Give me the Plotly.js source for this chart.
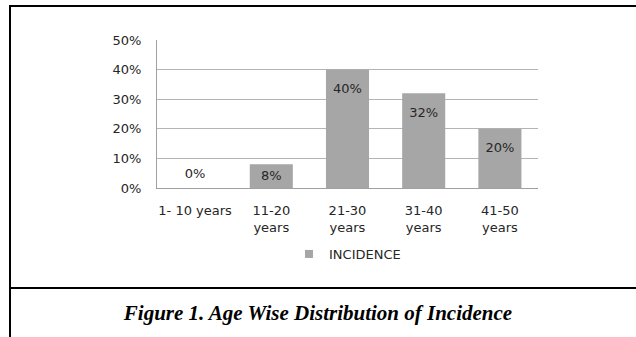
<!DOCTYPE html>
<html>
<head>
<meta charset="utf-8">
<script src="https://cdn.plot.ly/plotly-3.0.1.min.js"></script>
<style>
html,body{margin:0;padding:0;background:#fff;}
#chart{width:636px;height:337px;}
</style>
</head>
<body>
<div id="chart"></div>
<script>
const categories = ["1- 10 years", "11-20<br>years", "21-30<br>years", "31-40<br>years", "41-50<br>years"];
const incidence = [0.00, 0.08, 0.40, 0.32, 0.20];
const seriesName = "INCIDENCE";
const figureCaption = "<b><i>Figure 1. Age Wise Distribution of Incidence</i></b>";

const W = 636, H = 337;
const L = 157, R = 538, T = 40, B = 188;
const px2x = p => (p - L) / (R - L);
const px2y = p => (B - p) / (B - T);
const FONT = "DejaVu Sans, sans-serif";
const TXT = "#262626";

const bars = {
  type: "bar",
  x: categories,
  y: incidence,
  name: seriesName,
  marker: {color: "#a6a6a6"},
  showlegend: false,
  hoverinfo: "skip"
};

// label offsets (invisible marker radius pushes text away from the bar top)
const labelGap = incidence.map(v => v === 0 ? 10 : (v < 0.1 ? 8 : 20));

const labels = {
  type: "scatter",
  mode: "markers+text",
  x: categories,
  y: incidence,
  text: incidence.map(v => Math.round(v * 100) + "%"),
  textposition: incidence.map(v => v === 0 ? "top center" : "bottom center"),
  marker: {size: labelGap, opacity: 0},
  textfont: {family: FONT, size: 13, color: TXT},
  cliponaxis: false,
  showlegend: false,
  hoverinfo: "skip"
};

const legendKey = {
  type: "scatter",
  mode: "markers",
  x: [null], y: [null],
  name: seriesName,
  marker: {symbol: "square", size: 8, color: "#a6a6a6"},
  showlegend: true,
  hoverinfo: "skip"
};

const layout = {
  width: W, height: H,
  margin: {l: L, r: W - R, t: T, b: H - B, pad: 0},
  paper_bgcolor: "#ffffff",
  plot_bgcolor: "#ffffff",
  bargap: 0.435,
  font: {family: FONT, size: 13, color: TXT},
  xaxis: {
    type: "category",
    showgrid: false,
    showline: true, linecolor: "#a0a0a0", linewidth: 1,
    ticks: "outside", ticklen: 10, tickcolor: "rgba(0,0,0,0)",
    tickfont: {family: FONT, size: 13, color: TXT},
    fixedrange: true
  },
  yaxis: {
    range: [0, 0.5],
    dtick: 0.1,
    tickformat: ".0%",
    showgrid: true, gridcolor: "#b4b4b4", gridwidth: 1,
    showline: true, linecolor: "#a0a0a0", linewidth: 1,
    zeroline: false,
    ticks: "outside", ticklen: 12, tickcolor: "rgba(0,0,0,0)",
    tickfont: {family: FONT, size: 13, color: TXT},
    fixedrange: true
  },
  legend: {
    orientation: "h",
    x: 0.5, xanchor: "center",
    y: px2y(254), yanchor: "middle",
    font: {family: FONT, size: 13, color: TXT},
    itemwidth: 30
  },
  title: {
    text: figureCaption,
    x: 0.5, xref: "container", xanchor: "center",
    y: 1 - 313 / H, yref: "container", yanchor: "middle",
    font: {family: "Liberation Serif, serif", size: 21, color: "#000000"}
  },
  shapes: [
    {type: "line", xref: "paper", yref: "paper", x0: px2x(10), x1: px2x(640), y0: px2y(6), y1: px2y(6), line: {color: "#000", width: 2}},
    {type: "line", xref: "paper", yref: "paper", x0: px2x(10), x1: px2x(10), y0: px2y(5), y1: px2y(340), line: {color: "#000", width: 2}},
    {type: "line", xref: "paper", yref: "paper", x0: px2x(10), x1: px2x(640), y0: px2y(288), y1: px2y(288), line: {color: "#000", width: 2}}
  ]
};

Plotly.newPlot("chart", [bars, labels, legendKey], layout, {displayModeBar: false, staticPlot: true});
</script>
</body>
</html>
